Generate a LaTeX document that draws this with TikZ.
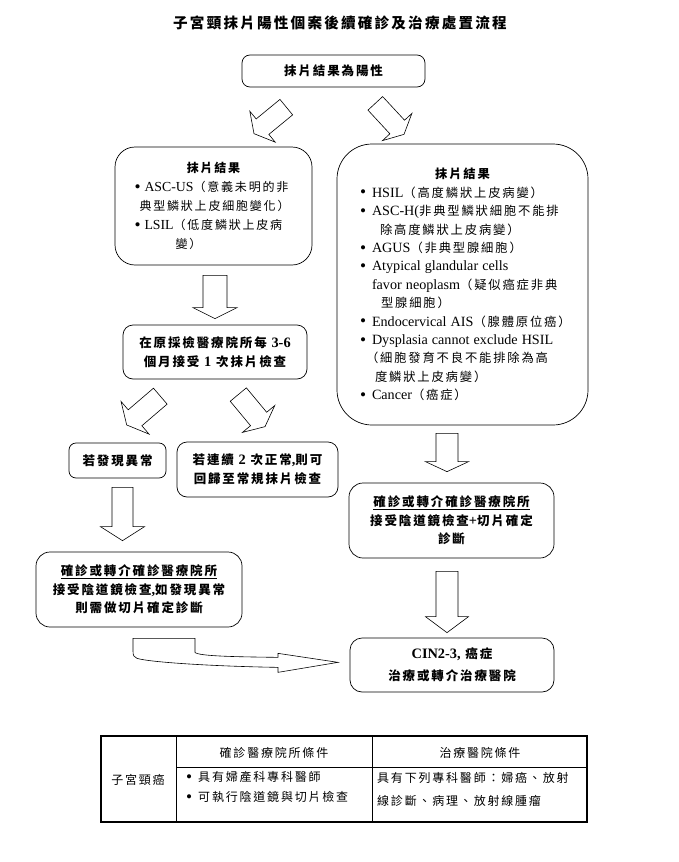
\documentclass[tikz,border=0pt]{standalone}
\usepackage{fontspec}
\setmainfont{Noto Sans CJK TC}[LetterSpace=15]
\newfontfamily\lat{Liberation Serif}[Scale=1.15]
\usetikzlibrary{calc}
\newcommand\bdot{\raisebox{-0.6pt}{\lat\fontsize{15}{15}\selectfont •}}
\newcommand\blt[1]{\makebox[12pt][l]{\bdot}{\lat #1}}
\newcommand\bltb[1]{\makebox[10pt][l]{\bdot}{\lat #1}}
\newcommand\barrow[5]{%
  \coordinate (bT) at #1;
  \coordinate (bH) at #2;
  \coordinate (bB) at ($(bH)!#5!(bT)$);
  \draw[blk] ($(bT)!#3!90:(bH)$) -- ($(bB)!#3!90:(bH)$) -- ($(bB)!#4!90:(bH)$) -- (bH)
    -- ($(bB)!#4!-90:(bH)$) -- ($(bB)!#3!-90:(bH)$) -- ($(bT)!#3!-90:(bH)$) -- cycle;
}
\begin{document}
\begin{tikzpicture}[x=1pt,y=-1pt,
  box/.style={draw, line width=0.7pt, fill=white, inner sep=0pt},
  bfs/.style={font=\bfseries\fontsize{12.5}{18.5}\selectfont, align=center},
  blk/.style={draw=black, line width=0.6pt, fill=white, line join=miter},
  tab/.style={font=\fontsize{12}{20}\selectfont, inner sep=0pt}]
\useasboundingbox (0,0) rectangle (679,862);
\fill[white] (0,0) rectangle (679,862);

\node[font=\bfseries\fontsize{14.6}{17}\selectfont] (title) at (340,23) {子宮頸抹片陽性個案後續確診及治療處置流程};

\node[box, bfs, rounded corners=8pt, minimum width=183pt, minimum height=32pt] (top) at (333.5,71) {抹片結果為陽性};

\node[box, rounded corners=20pt, minimum width=197pt, minimum height=118pt, text width=158pt, align=left,
  font=\fontsize{12}{19}\selectfont] (smearL) at (213.5,206) {%
\makebox[158pt]{\bfseries 抹片結果}\\
\bltb{ASC-US}（意義未明的非\\
\hspace*{5pt}典型鱗狀上皮細胞變化）\\
\bltb{LSIL}（低度鱗狀上皮病\\
\hspace*{41pt}變）};

\node[box, rounded corners=35pt, minimum width=251pt, minimum height=281pt, text width=205pt, align=left,
  font=\fontsize{12.3}{18.4}\selectfont] (smearR) at (462.5,284.5) {%
\makebox[205pt]{\bfseries 抹片結果}\\
\mbox{\blt{HSIL}（高度鱗狀上皮病變）}\\
\mbox{\blt{ASC-H(}非典型鱗狀細胞不能排}\\
\hspace*{20pt}除高度鱗狀上皮病變）\\
\mbox{\blt{AGUS}（非典型腺細胞）}\\
\mbox{\blt{Atypical glandular cells}}\\
\hspace*{12pt}\mbox{{\lat favor neoplasm}（疑似癌症非典}\\
\hspace*{21pt}型腺細胞）\\
\mbox{\blt{Endocervical AIS}（腺體原位癌）}\\
\mbox{\blt{Dysplasia cannot exclude HSIL}}\\
\hspace*{6pt}（細胞發育不良不能排除為高\\
\hspace*{15pt}度鱗狀上皮病變）\\
\mbox{\blt{Cancer}（癌症）}};

\node[box, bfs, rounded corners=10pt, minimum width=184pt, minimum height=54pt] (rescr) at (215,352)
  {在原採檢醫療院所每 {\lat 3-6}\\個月接受 {\lat 1} 次抹片檢查};

\node[box, bfs, rounded corners=7pt, minimum width=97pt, minimum height=35pt] (abn) at (117.5,460.5) {若發現異常};

\node[box, bfs, rounded corners=10pt, minimum width=161pt, minimum height=55pt] (norm) at (257.5,469.5)
  {若連續 {\lat 2} 次正常{\lat ,}則可\\回歸至常規抹片檢查};

\node[box, bfs, rounded corners=14pt, minimum width=206pt, minimum height=75pt] (confL) at (139,589.5)
  {\underline{確診或轉介確診醫療院所}\\接受陰道鏡檢查{\lat ,}如發現異常\\則需做切片確定診斷};

\node[box, bfs, rounded corners=14pt, minimum width=205pt, minimum height=75pt] (confR) at (451.5,520.5)
  {\underline{確診或轉介確診醫療院所}\\接受陰道鏡檢查{\lat +}切片確定\\診斷};

\node[box, bfs, rounded corners=12pt, minimum width=204pt, minimum height=54pt, font=\bfseries\fontsize{12.5}{22}\selectfont] (cin) at (452,665)
  {{\lat CIN2-3,} 癌症\\治療或轉介治療醫院};

% block arrows
\barrow{($(top.south)+(-47.2,19.8)$)}{($(smearL.north)+(40.5,-13)$)}{10pt}{20pt}{11pt}
\barrow{($(top.south)+(41.8,16)$)}{($(smearR.north)+(-58.5,-9.3)$)}{10pt}{20pt}{10pt}
\barrow{($(smearL.south)+(1.5,10)$)}{($(rescr.north)+(0,-6)$)}{12pt}{22pt}{11pt}
\barrow{($(rescr.south)+(-54.7,16.8)$)}{($(abn.north)+(9.2,-17.7)$)}{10.5pt}{21.5pt}{11pt}
\barrow{($(rescr.south)+(23.3,15.2)$)}{($(norm.north)+(7.5,-15)$)}{10.5pt}{21pt}{10pt}
\barrow{($(abn.south)+(5,9)$)}{($(confL.north)+(-16.5,-11)$)}{10.5pt}{22pt}{14pt}
\barrow{($(smearR.south)+(-15.5,8)$)}{($(confR.north)+(-4.5,-11)$)}{11pt}{21.5pt}{10pt}
\barrow{($(confR.south)+(-4.5,13)$)}{($(cin.north)+(-5,-5)$)}{11pt}{21.5pt}{16pt}

% bent arrow from confL to cin
\draw[blk, shift={(confL.south)}] (-6,11) -- (56,11) -- (56,25)
  .. controls (59,29) and (101,29.5) .. (139,30) -- (139,26) -- (199,35) -- (139,45) -- (139,40)
  .. controls (76,39) and (11,35) .. (-2,31)
  .. controls (-5,30) and (-6,28) .. (-6,24) -- cycle;

% table
\draw[line width=1.8pt] (101,736) rectangle (587,822);
\draw[line width=0.7pt] (176,736) -- (176,822) (372,736) -- (372,822) (176,767) -- (587,767);
\node[tab] (tc1) at (138,780) {子宮頸癌};
\node[tab] (th2) at (274,753) {確診醫療院所條件};
\node[tab] (th3) at (480,753) {治療醫院條件};
\node[tab, anchor=west, align=left] (tb2) at (186,787)
  {\makebox[12pt][l]{\bdot}具有婦產科專科醫師\\\makebox[12pt][l]{\bdot}可執行陰道鏡與切片檢查};
\node[tab, anchor=west, align=left, font=\fontsize{12}{23}\selectfont] (tb3) at (377,789)
  {具有下列專科醫師：婦癌、放射\\線診斷、病理、放射線腫瘤};
\end{tikzpicture}
\end{document}
